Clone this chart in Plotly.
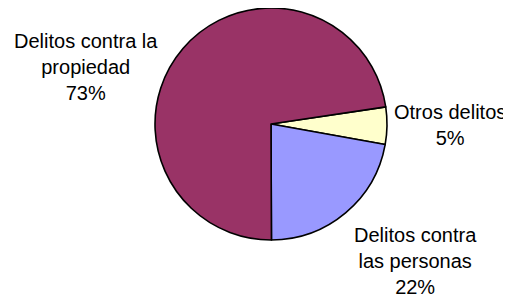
import plotly.graph_objects as go

# Data (order: clockwise starting just above 3 o'clock)
categories = ["Otros delitos", "Delitos contra las personas", "Delitos contra la propiedad"]
display_labels = ["Otros delitos", "Delitos contra<br>las personas", "Delitos contra la<br>propiedad"]
values = [5.2, 22.1, 72.7]
colors = ["#FFFFCC", "#9999FF", "#993366"]

# label anchor positions in paper coords (relative to pie area)
label_x = [1.272, 1.121, -0.297]
label_y = [0.496, -0.091, 0.745]

total = sum(values)

fig = go.Figure(
    go.Pie(
        labels=categories,
        values=values,
        sort=False,
        direction="clockwise",
        rotation=81.5,
        marker=dict(colors=colors, line=dict(color="black", width=1.6)),
        textinfo="none",
        hoverinfo="label+percent",
        showlegend=False,
    )
)

for lab, v, x, y in zip(display_labels, values, label_x, label_y):
    fig.add_annotation(
        text=f"{lab}<br>{round(100 * v / total)}%",
        x=x, y=y, xref="paper", yref="paper",
        xanchor="center", yanchor="middle",
        showarrow=False,
        font=dict(family="Liberation Sans, Arial, sans-serif", size=20, color="black"),
    )

# page body has an 8px margin, so the figure is slightly smaller than the window
fig.update_layout(
    width=503,
    height=292,
    margin=dict(l=147, r=124, t=0, b=60),
    paper_bgcolor="white",
    plot_bgcolor="white",
)

fig.write_html("out.html")
